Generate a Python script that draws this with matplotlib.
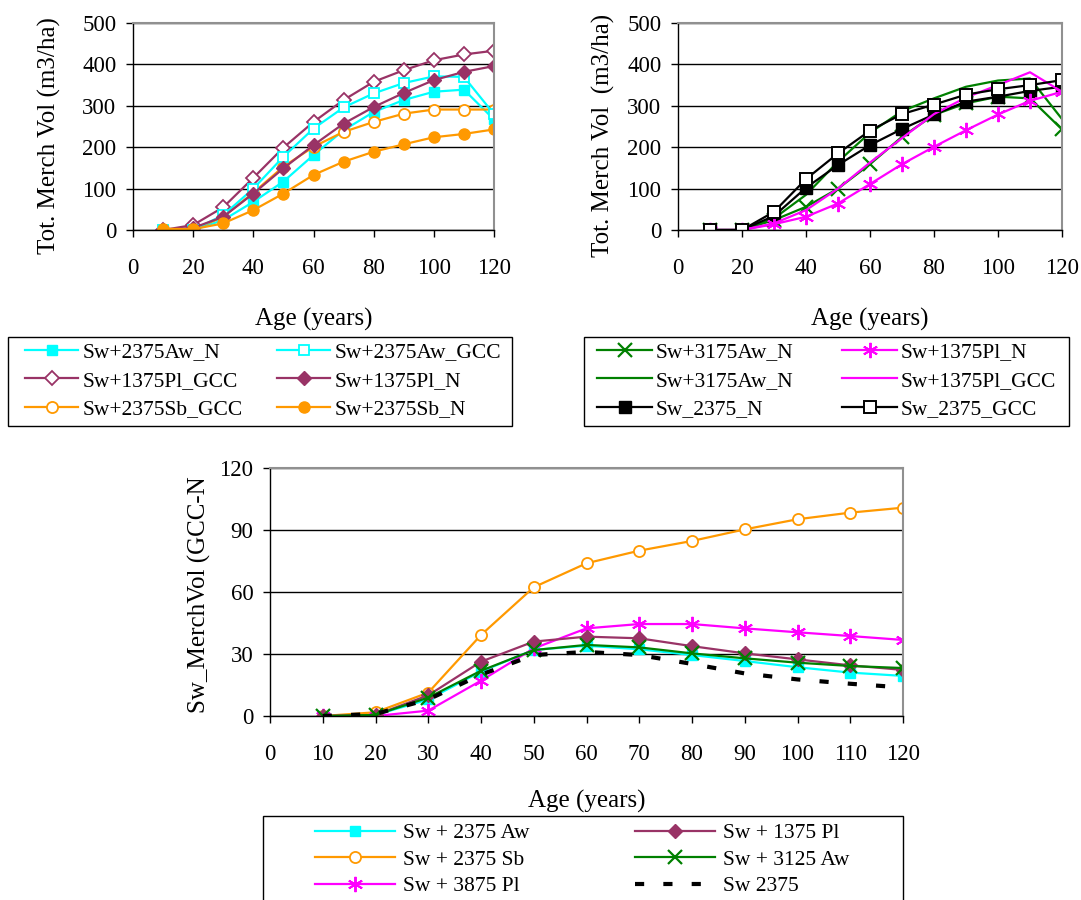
import matplotlib
matplotlib.use("Agg")
import matplotlib.pyplot as plt
from matplotlib.patches import Rectangle

plt.rcParams['font.family'] = ['Liberation Serif', 'DejaVu Serif']

ages = [10, 20, 30, 40, 50, 60, 70, 80, 90, 100, 110, 120]

# --- top-left chart ---
aw2375_n = [0, 0, 24, 68, 117, 181, 241, 285, 314, 334, 339, 267]
aw2375_gcc = [0, 0, 36, 100, 177, 245, 296, 330, 355, 371, 370, 280]
pl1375_gcc = [0, 12, 55, 126, 199, 261, 314, 358, 386, 410, 424, 433]
pl1375_n = [0, 5, 32, 88, 149, 205, 257, 297, 331, 362, 382, 396]
sb2375_gcc = [0, 0, 32, 90, 153, 201, 237, 261, 281, 291, 291, 291]
sb2375_n = [3, 2, 16, 48, 88, 133, 165, 189, 207, 224, 232, 243]

# --- top-right chart ---
aw3175_n_mk = [0, 0, 24, 56, 100, 159, 225, 278, 306, 322, 318, 243]
aw3175_n_ln = [0, 0, 28, 85, 165, 235, 287, 318, 346, 361, 366, 268]
pl1375b_n = [0, 0, 14, 32, 64, 111, 159, 201, 241, 279, 312, 334]
pl1375b_gcc = [0, 0, 16, 48, 100, 163, 222, 280, 320, 350, 381, 334]
sw2375_n = [0, 0, 34, 102, 157, 205, 244, 279, 310, 322, 336, 346]
sw2375_gcc = [0, 0, 44, 123, 185, 240, 280, 303, 327, 340, 350, 362]

# --- bottom chart (GCC - N) ---
d_aw2375 = [0, 0.5, 8, 21.5, 32, 34, 32.3, 29.5, 26.6, 23.6, 21, 19.4]
d_pl1375 = [0, 0.5, 10, 26.3, 36, 38.4, 37.6, 33.8, 30.3, 27.4, 24.5, 22.3]
d_sb2375 = [0, 1.8, 11.3, 39.2, 62.3, 73.9, 80, 84.7, 90.3, 95.2, 98.4, 100.8]
d_aw3125 = [0, 0.5, 8.9, 21.9, 31.9, 34.4, 33.2, 30.3, 27.9, 25.8, 24.2, 23.2]
d_pl3875 = [0, 0, 2.6, 17.1, 32.7, 42.4, 44.5, 44.5, 42.4, 40.5, 38.7, 36.8]
d_sw2375 = [0, 1, 8, 20, 29.5, 31, 29.5, 25.2, 20.6, 17.7, 15.6, 13.8]

top_yticks = [0, 100, 200, 300, 400, 500]
top_xticks = [0, 20, 40, 60, 80, 100, 120]
bot_yticks = [0, 30, 60, 90, 120]
bot_xticks = [0, 10, 20, 30, 40, 50, 60, 70, 80, 90, 100, 110, 120]

CYAN = '#00FFFF'
PURPLE = '#993366'
ORANGE = '#FF9900'
GREEN = '#008000'
MAGENTA = '#FF00FF'
BLACK = '#000000'

W, H = 1081, 900
fig = plt.figure(figsize=(W / 100, H / 100), dpi=100)


def px_axes(l, r, t, b):
    return fig.add_axes([l / W, 1 - b / H, (r - l) / W, (b - t) / H])


TICK_FS = 16.5
LABEL_FS = 18
LEG_FS = 15.5


def style(ax, xticks, yticks, xlim, ylim):
    ax.set_xlim(*xlim)
    ax.set_ylim(*ylim)
    ax.set_xticks(xticks)
    ax.set_yticks(yticks)
    ax.yaxis.grid(True, color='black', linewidth=1.0)
    ax.set_axisbelow(True)
    for s in ['top', 'right']:
        ax.spines[s].set_color('#909090')
        ax.spines[s].set_linewidth(1.5)
    for s in ['left', 'bottom']:
        ax.spines[s].set_color('black')
        ax.spines[s].set_linewidth(1.0)
    ax.tick_params(axis='x', direction='out', length=5, width=1, pad=15,
                   labelsize=TICK_FS)
    ax.tick_params(axis='y', direction='out', length=5, width=1, pad=7,
                   labelsize=TICK_FS)


lw = 1.6

# ---------------- top-left ----------------
ax1 = px_axes(133, 494, 23, 230)
style(ax1, top_xticks, top_yticks, (0, 120), (0, 500))
ax1.plot(ages, aw2375_n, color=CYAN, lw=lw, marker='s', ms=7.5, mfc=CYAN,
         mec=CYAN, label='Sw+2375Aw_N')
ax1.plot(ages, pl1375_gcc, color=PURPLE, lw=lw, marker='D', ms=7, mfc='white',
         mec=PURPLE, mew=1.3, label='Sw+1375Pl_GCC')
ax1.plot(ages, sb2375_gcc, color=ORANGE, lw=lw, marker='o', ms=8, mfc='white',
         mec=ORANGE, mew=1.3, label='Sw+2375Sb_GCC')
ax1.plot(ages, aw2375_gcc, color=CYAN, lw=lw, marker='s', ms=7.5, mfc='white',
         mec=CYAN, mew=1.3, label='Sw+2375Aw_GCC')
ax1.plot(ages, pl1375_n, color=PURPLE, lw=lw, marker='D', ms=7, mfc=PURPLE,
         mec=PURPLE, label='Sw+1375Pl_N')
ax1.plot(ages, sb2375_n, color=ORANGE, lw=lw, marker='o', ms=8, mfc=ORANGE,
         mec=ORANGE, label='Sw+2375Sb_N')
ax1.set_xlabel('Age (years)', fontsize=LABEL_FS)
ax1.xaxis.set_label_coords(0.5, -0.375)
ax1.set_ylabel('Tot. Merch Vol (m3/ha)', fontsize=LABEL_FS)
ax1.yaxis.set_label_coords(-0.20, 0.455)

# ---------------- top-right ----------------
ax2 = px_axes(678, 1062, 23, 230)
style(ax2, top_xticks, top_yticks, (0, 120), (0, 500))
ax2.plot(ages, aw3175_n_mk, color=GREEN, lw=lw, marker='x', ms=10, mew=1.6,
         label='Sw+3175Aw_N')
ax2.plot(ages, aw3175_n_ln, color=GREEN, lw=lw, label='Sw+3175Aw_N')
ax2.plot(ages, sw2375_n, color=BLACK, lw=lw, marker='s', ms=8, mfc=BLACK,
         label='Sw_2375_N')
ax2.plot(ages, pl1375b_n, color=MAGENTA, lw=lw, marker=(6, 2, 0), ms=11,
         mew=1.4, label='Sw+1375Pl_N')
ax2.plot(ages, pl1375b_gcc, color=MAGENTA, lw=lw, label='Sw+1375Pl_GCC')
ax2.plot(ages, sw2375_gcc, color=BLACK, lw=lw, marker='s', ms=8, mfc='white',
         mew=1.4, label='Sw_2375_GCC')
ax2.set_xlabel('Age (years)', fontsize=LABEL_FS)
ax2.xaxis.set_label_coords(0.5, -0.375)
ax2.set_ylabel('Tot. Merch Vol  (m3/ha)', fontsize=LABEL_FS)
ax2.yaxis.set_label_coords(-0.165, 0.455)

# ---------------- bottom ----------------
ax3 = px_axes(270, 903, 468, 716)
style(ax3, bot_xticks, bot_yticks, (0, 120), (0, 120))
ax3.plot(ages, d_aw2375, color=CYAN, lw=lw, marker='s', ms=7.5, mfc=CYAN,
         mec=CYAN, label='Sw + 2375 Aw')
ax3.plot(ages, d_sb2375, color=ORANGE, lw=lw, marker='o', ms=8, mfc='white',
         mec=ORANGE, mew=1.3, label='Sw + 2375 Sb')
ax3.plot(ages, d_pl3875, color=MAGENTA, lw=lw, marker=(6, 2, 0), ms=11,
         mew=1.4, label='Sw + 3875 Pl')
ax3.plot(ages, d_pl1375, color=PURPLE, lw=lw, marker='D', ms=7.5, mfc=PURPLE,
         mec=PURPLE, label='Sw + 1375 Pl')
ax3.plot(ages, d_aw3125, color=GREEN, lw=lw, marker='x', ms=10, mew=1.6,
         label='Sw + 3125 Aw')
ax3.plot(ages, d_sw2375, color=BLACK, lw=3, linestyle=(0, (2.2, 4.6)),
         label='Sw 2375')
ax3.set_xlabel('Age (years)', fontsize=LABEL_FS)
ax3.xaxis.set_label_coords(0.5, -0.3)
ax3.set_ylabel('Sw_MerchVol (GCC-N', fontsize=LABEL_FS)
ax3.yaxis.set_label_coords(-0.093, 0.49)

FS_PX = LEG_FS * 100 / 72


def frame(l, r, t, b):
    fig.add_artist(Rectangle((l / W, 1 - b / H), (r - l) / W, (b - t) / H,
                             transform=fig.transFigure, fill=False,
                             edgecolor='black', linewidth=1.0))


def col_legend(handles, labels, x, ytop, hl_px, pad_px, ls):
    fig.legend(handles, labels, loc='upper left',
               bbox_to_anchor=(x / W, 1 - ytop / H),
               bbox_transform=fig.transFigure, frameon=False,
               fontsize=LEG_FS, handlelength=hl_px / FS_PX,
               handletextpad=pad_px / FS_PX, labelspacing=ls,
               borderpad=0, borderaxespad=0, numpoints=1)


def chart_legend(ax, box, x1, x2, ytop, hl_px, pad_px, ls):
    h, lab = ax.get_legend_handles_labels()
    frame(*box)
    col_legend(h[:3], lab[:3], x1, ytop, hl_px, pad_px, ls)
    col_legend(h[3:], lab[3:], x2, ytop, hl_px, pad_px, ls)


chart_legend(ax1, (8, 512, 337, 426), 25, 277, 342, 53, 5, 0.4)
chart_legend(ax2, (584, 1069, 337, 426), 597, 842, 342, 55, 4, 0.4)
chart_legend(ax3, (263, 903, 816, 912), 315, 635, 823, 80, 8, 0.3)

fig.savefig('out.png', dpi=100)
